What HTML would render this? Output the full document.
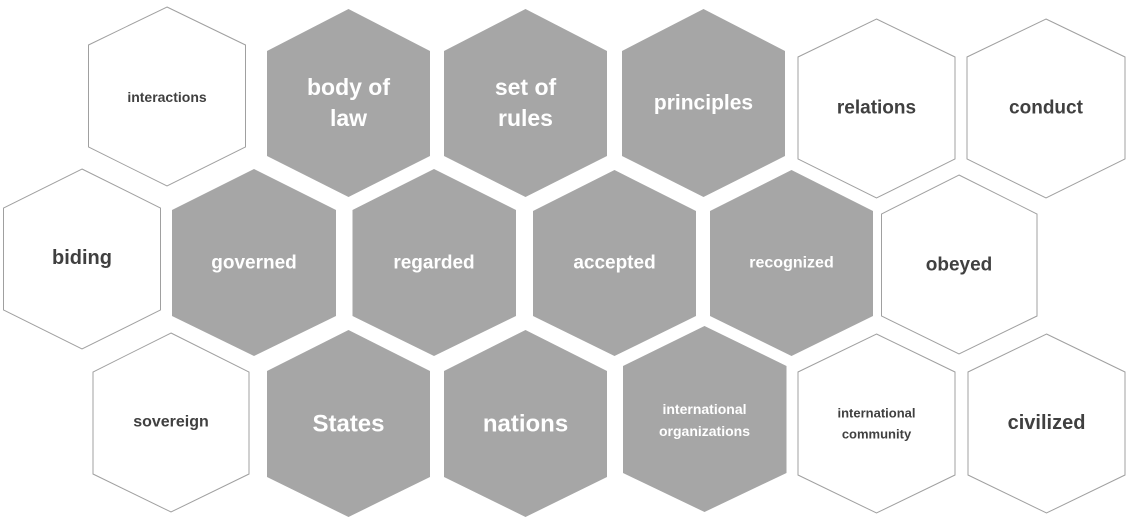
<!DOCTYPE html>
<html><head><meta charset="utf-8"><style>
html,body{margin:0;padding:0;background:#fff;}
svg{display:block}
text{font-family:"Liberation Sans",sans-serif;font-weight:bold;text-anchor:middle;dominant-baseline:central}
.g{fill:#a6a6a6}
.w{fill:#fff;stroke:#a0a0a0;stroke-width:1}
.tw{fill:#fff}
.td{fill:#404040}
</style></head><body>
<svg width="1135" height="528" viewBox="0 0 1135 528">
<!-- row 1 -->
<polygon class="w" points="167,7 245.5,45 245.5,147 167,186 88.5,147 88.5,45"/>
<polygon class="g" points="348.5,9 430,51 430,156 348.5,197 267,156 267,51"/>
<polygon class="g" points="525.5,9 607,51 607,156 525.5,197 444,156 444,51"/>
<polygon class="g" points="703.5,9 785,51 785,156 703.5,197 622,156 622,51"/>
<polygon class="w" points="876.5,19 955,57 955,159 876.5,198 798,159 798,57"/>
<polygon class="w" points="1046,19 1125,57 1125,159 1046,198 967,159 967,57"/>
<!-- row 2 -->
<polygon class="w" points="82,169 160.5,208 160.5,310 82,349 3.5,310 3.5,208"/>
<polygon class="g" points="254,169 336,210 336,316 254,356 172,316 172,210"/>
<polygon class="g" points="434,169 516,210 516,316 434,356 352.5,316 352.5,210"/>
<polygon class="g" points="614.5,170 696,211 696,316 614.5,356 533,316 533,211"/>
<polygon class="g" points="791.5,170 873,211 873,316 791.5,356 710,316 710,211"/>
<polygon class="w" points="959,175 1037,214 1037,316 959,354 881.5,316 881.5,214"/>
<!-- row 3 -->
<polygon class="w" points="171,333 249,372 249,474 171,512 93,474 93,372"/>
<polygon class="g" points="348.5,330 430,371 430,477 348.5,517 267,477 267,371"/>
<polygon class="g" points="525.5,330 607,371 607,477 525.5,517 444,477 444,371"/>
<polygon class="g" points="704.5,326 786.5,366 786.5,473 704.5,512 623,473 623,366"/>
<polygon class="w" points="876.5,334 955,372 955,475 876.5,513 798,475 798,372"/>
<polygon class="w" points="1046.5,334 1125,372 1125,475 1046.5,513 968,475 968,372"/>
<!-- text -->
<text class="td" x="167" y="97" font-size="14">interactions</text>
<text class="tw" x="348.5" y="87" font-size="23">body of</text>
<text class="tw" x="348.5" y="118" font-size="23">law</text>
<text class="tw" x="525.5" y="87" font-size="23">set of</text>
<text class="tw" x="525.5" y="118" font-size="23">rules</text>
<text class="tw" x="703.5" y="103" font-size="21">principles</text>
<text class="td" x="876.5" y="108" font-size="19">relations</text>
<text class="td" x="1046" y="108" font-size="19">conduct</text>
<text class="td" x="82" y="258" font-size="20">biding</text>
<text class="tw" x="254" y="263" font-size="19">governed</text>
<text class="tw" x="434" y="263" font-size="19">regarded</text>
<text class="tw" x="614.5" y="263" font-size="19">accepted</text>
<text class="tw" x="791.5" y="263" font-size="16">recognized</text>
<text class="td" x="959" y="265" font-size="19">obeyed</text>
<text class="td" x="171" y="422" font-size="16">sovereign</text>
<text class="tw" x="348.5" y="424" font-size="24">States</text>
<text class="tw" x="525.5" y="424" font-size="24">nations</text>
<text class="tw" x="704.5" y="409" font-size="14">international</text>
<text class="tw" x="704.5" y="431" font-size="14">organizations</text>
<text class="td" x="876.5" y="413" font-size="13">international</text>
<text class="td" x="876.5" y="434" font-size="13">community</text>
<text class="td" x="1046.5" y="423" font-size="20">civilized</text>
</svg>
</body></html>
